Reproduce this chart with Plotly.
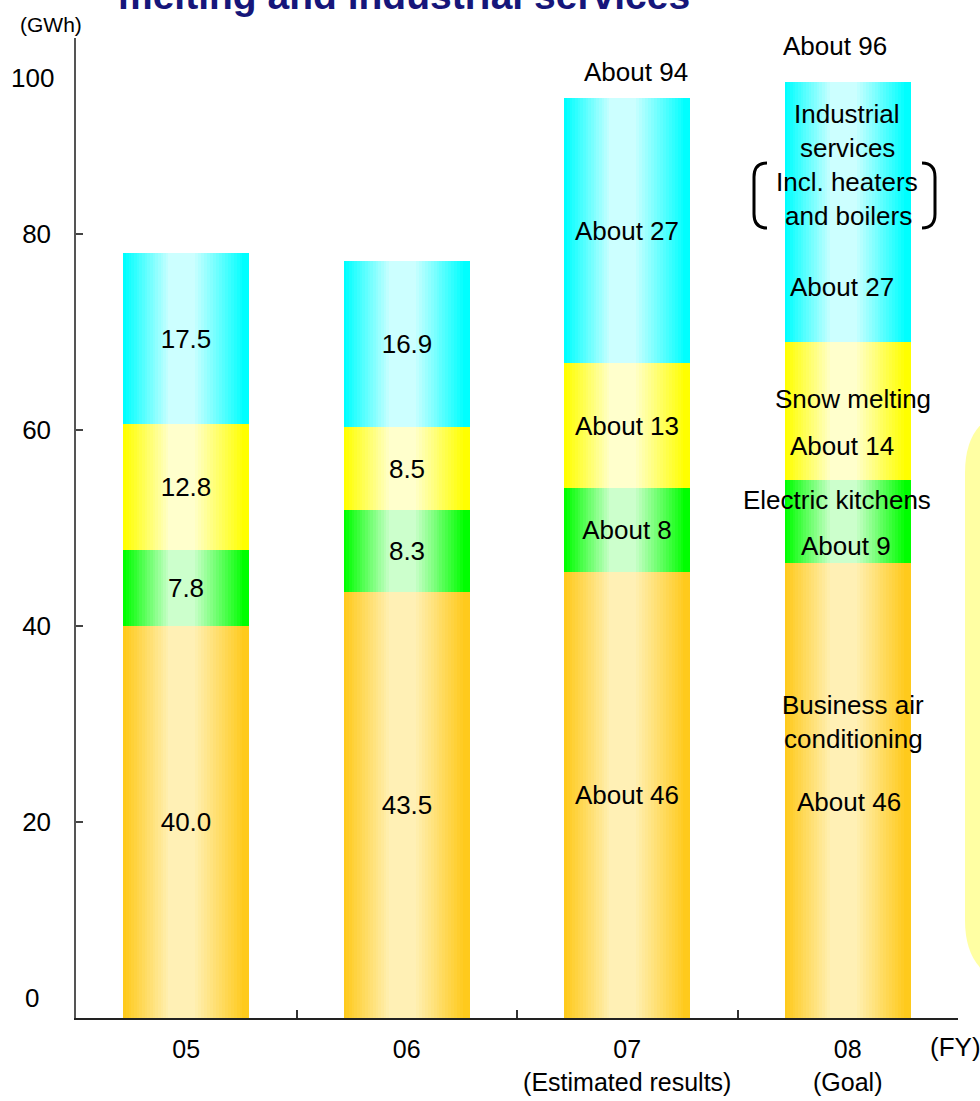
import plotly.graph_objects as go

# ---------------- data ----------------
categories = ["05", "06", "07<br>(Estimated results)", "08<br>(Goal)"]
segment_names = ["Business air conditioning", "Electric kitchens", "Snow melting", "Industrial services"]

business_air = [40.0, 43.5, 45.5, 46.4]
electric_kitchens = [7.8, 8.3, 8.6, 8.5]
snow_melting = [12.8, 8.5, 12.7, 14.1]
industrial = [17.5, 16.9, 27.1, 26.5]

business_air_text = ["40.0", "43.5", "About 46", ""]
electric_kitchens_text = ["7.8", "8.3", "About 8", ""]
snow_melting_text = ["12.8", "8.5", "About 13", ""]
industrial_text = ["17.5", "16.9", "About 27", ""]

total_text = ["78.1", "77.2", "About 94", "About 96"]

goal_notes = ["Industrial", "services", "Incl. heaters", "and boilers", "About 27",
              "Snow melting", "About 14", "Electric kitchens", "About 9",
              "Business air", "conditioning", "About 46"]

y_tick_values = [20, 40, 60, 80]

# ---------------- style ----------------
NARROW = "Liberation Sans, Arial, sans-serif"
ARIAL = "Liberation Sans, Arial, sans-serif"
PL, PT, PW, PH = 76, 38, 882, 980
W, H = 980, 1101
BAR_W = 0.571
N_LAYERS = 18

edge_colors = ["#FFCA1C", "#00FF00", "#FFFF00", "#00FFFF"]
center_colors = ["#FFF0B5", "#CCFFCC", "#FFFFCC", "#CCFFFF"]


def px(x):
    return (x - PL) / PW


def py(y):
    return (PT + PH - y) / PH


def hex2rgb(h):
    h = h.lstrip("#")
    return [int(h[i:i + 2], 16) for i in (0, 2, 4)]


def mix(a, b, t):
    ca, cb = hex2rgb(a), hex2rgb(b)
    c = [round(ca[i] + (cb[i] - ca[i]) * t) for i in range(3)]
    return f"rgb({c[0]},{c[1]},{c[2]})"


series = [business_air, electric_kitchens, snow_melting, industrial]
series_text = [business_air_text, electric_kitchens_text, snow_melting_text, industrial_text]

xs, ys, bases, seg_idx, texts = [], [], [], [], []
for ci, cat in enumerate(categories):
    bottom = 0.0
    for si, vals in enumerate(series):
        xs.append(cat)
        ys.append(vals[ci])
        bases.append(bottom)
        seg_idx.append(si)
        texts.append(series_text[si][ci])
        bottom += vals[ci]

totals = [sum(v[i] for v in series) for i in range(len(categories))]

fig = go.Figure()

# gradient layers (horizontal shading: dark edges, light centre)
for k in range(N_LAYERS):
    if k == 0:
        left, right = 0.0, 1.0
    else:
        t = k / N_LAYERS
        left = t * 0.38
        right = 0.97 - t * 0.42
    tcol = k / (N_LAYERS - 1)
    colors = [mix(edge_colors[s], center_colors[s], tcol) for s in seg_idx]
    fig.add_trace(go.Bar(
        x=xs, y=ys, base=bases,
        width=(right - left) * BAR_W,
        offset=-BAR_W / 2 + left * BAR_W,
        marker=dict(color=colors, line=dict(width=0)),
        showlegend=False, hoverinfo="skip",
    ))

# value labels
fig.add_trace(go.Bar(
    x=xs, y=ys, base=bases, width=BAR_W, offset=-BAR_W / 2,
    marker=dict(color="rgba(0,0,0,0)", line=dict(width=0)),
    text=texts, textposition="inside", insidetextanchor="middle",
    textangle=0, constraintext="none",
    textfont=dict(family=ARIAL, size=26, color="black"),
    showlegend=False, hoverinfo="skip",
))

annotations = []

# totals above bars
total_nudge = [(-6, 31), (-7, 34), (9, 26), (-13, 36)]
for ci, cat in enumerate(categories):
    annotations.append(dict(
        x=cat, y=totals[ci], xref="x", yref="y", text=total_text[ci],
        showarrow=False, xanchor="center", yanchor="middle",
        xshift=total_nudge[ci][0], yshift=total_nudge[ci][1],
        font=dict(family=NARROW, size=26, color="black"),
    ))

# notes on the goal bar
goal_pos = [(847, 114), (847, 148), (847, 182), (848, 216), (842, 287),
            (853, 399), (842, 446), (837, 500), (846, 546),
            (853, 705), (853, 739), (849, 802)]
goal_regular = {"About 27", "About 14", "About 9", "About 46"}
for txt, (gx, gy) in zip(goal_notes, goal_pos):
    reg = txt in goal_regular
    annotations.append(dict(
        x=px(gx), y=py(gy), xref="paper", yref="paper", text=txt,
        showarrow=False, xanchor="center", yanchor="middle",
        font=dict(family=ARIAL if reg else NARROW, size=26, color="black"),
    ))

# y labels 0 and 100 (offset in the original)
annotations.append(dict(x=px(32), y=py(998), xref="paper", yref="paper", text="0",
                        showarrow=False, xanchor="center", yanchor="middle",
                        font=dict(family=NARROW, size=26, color="black")))
annotations.append(dict(x=px(32), y=py(78), xref="paper", yref="paper", text="100",
                        showarrow=False, xanchor="center", yanchor="middle",
                        font=dict(family=NARROW, size=26, color="black")))

# unit labels
annotations.append(dict(x=px(51), y=py(24), xref="paper", yref="paper", text="(GWh)",
                        showarrow=False, xanchor="center", yanchor="middle",
                        font=dict(family=NARROW, size=21, color="black")))
annotations.append(dict(x=px(928), y=py(1047), xref="paper", yref="paper", text="(FY)",
                        showarrow=False, xanchor="left", yanchor="middle",
                        font=dict(family=NARROW, size=26, color="black")))

# clipped title
annotations.append(dict(x=px(116), y=py(-5), xref="paper", yref="paper",
                        text="<b>melting and industrial services</b>",
                        showarrow=False, xanchor="left", yanchor="middle",
                        font=dict(family=ARIAL, size=39, color="#16167A")))


def ppath(pts):
    out = []
    for p in pts:
        if isinstance(p, str):
            out.append(p)
        else:
            out.append(f"{px(p[0]):.5f},{py(p[1]):.5f}")
    return " ".join(out)


shapes = []
# yellow rounded box at the right edge
r = 65
box = ppath(["M", (1040, 408), "L", (1040, 985), "L", (965 + r, 985), "Q", (965, 985), (965, 985 - r),
             "L", (965, 408 + r), "Q", (965, 408), (965 + r, 408), "Z"])
shapes.append(dict(type="path", path=box, xref="paper", yref="paper",
                   fillcolor="#FFFFA3", line=dict(width=0), layer="below"))
# brackets
lb = ppath(["M", (767, 163), "Q", (754, 163), (754, 177), "L", (754, 214), "Q", (754, 228), (767, 228)])
rb = ppath(["M", (922, 163), "Q", (935, 163), (935, 177), "L", (935, 214), "Q", (935, 228), (922, 228)])
for p in (lb, rb):
    shapes.append(dict(type="path", path=p, xref="paper", yref="paper",
                       line=dict(color="black", width=3)))

fig.update_layout(
    width=W, height=H,
    margin=dict(l=PL, r=W - PL - PW, t=PT, b=H - PT - PH, autoexpand=False),
    paper_bgcolor="white", plot_bgcolor="rgba(0,0,0,0)",
    barmode="overlay", bargap=0,
    annotations=annotations, shapes=shapes,
    xaxis=dict(
        type="category", categoryorder="array", categoryarray=categories,
        range=[-0.5, 3.5], tickson="boundaries", ticks="inside", ticklen=8,
        tickcolor="#333333", tickwidth=1.5, tickangle=0, automargin=False,
        showline=True, linecolor="#222222", linewidth=2,
        showgrid=False, zeroline=False,
        tickfont=dict(family=NARROW, size=25, color="black"),
        ticklabelstandoff=8,
    ),
    yaxis=dict(
        range=[0, 100], tickvals=y_tick_values, ticktext=[str(v) for v in y_tick_values],
        ticks="inside", ticklen=7, tickcolor="#444444", tickwidth=1.5,
        showline=True, linecolor="#555555", linewidth=1.5, automargin=False,
        showgrid=False, zeroline=False,
        tickfont=dict(family=NARROW, size=26, color="black"),
        ticklabelstandoff=18,
    ),
)

fig.write_html("out.html")
